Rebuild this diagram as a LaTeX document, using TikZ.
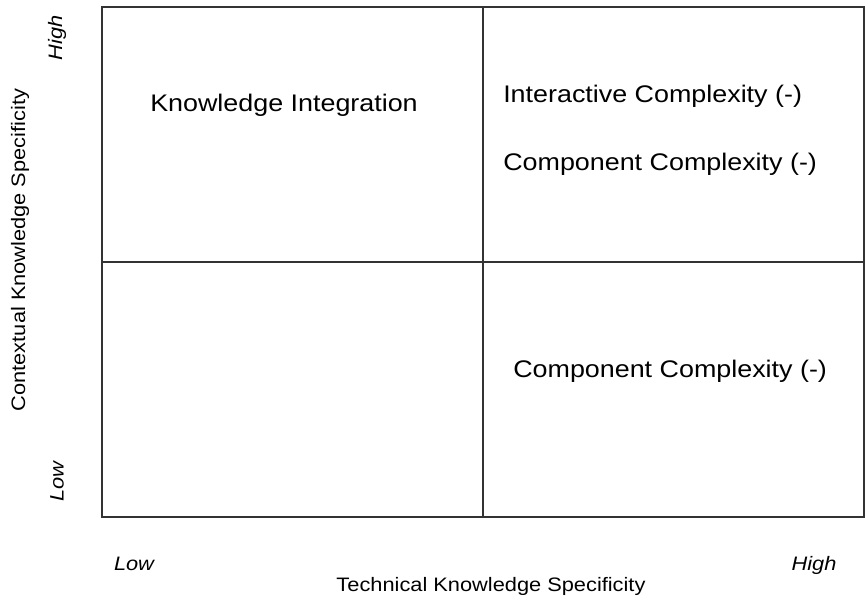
\documentclass[tikz,border=0pt]{standalone}
\usepackage{fontspec}
\setmainfont{Liberation Sans}[FakeStretch=1.12]
\definecolor{gridline}{HTML}{333333}
\begin{document}
\begin{tikzpicture}[x=0.75pt,y=-0.75pt,
  big/.style={inner sep=0pt, font=\fontsize{18}{21}\selectfont},
  small/.style={inner sep=0pt, font=\fontsize{14.6}{17}\selectfont},
  smallit/.style={inner sep=0pt, font=\fontsize{14.6}{17}\selectfont\itshape},
  grid/.style={draw=gridline, line width=1pt}]
\useasboundingbox (0,0) rectangle (865,605);
\fill[white] (0,0) rectangle (865,605);
% quadrant grid
\coordinate (tl) at (102,7);
\coordinate (br) at (864,517);
\coordinate (mt) at (483,7);
\coordinate (mb) at (483,517);
\coordinate (ml) at (102,262);
\coordinate (mr) at (864,262);
\draw[grid] (tl) rectangle (br);
\draw[grid] (mt) -- (mb);
\draw[grid] (ml) -- (mr);
% quadrant texts
\node[big, anchor=base] (ki) at (284,112) {Knowledge Integration};
\node[big, anchor=base west] (ic) at (503,103) {Interactive Complexity (-)};
\node[big, anchor=base west] (cc1) at (503,171) {Component Complexity (-)};
\node[big, anchor=base west] (cc2) at (513,378) {Component Complexity (-)};
% axes labels
\node[small, anchor=base] (xlab) at (491,592) {Technical Knowledge Specificity};
\node[smallit, anchor=base] (xlow) at (134,571) {Low};
\node[smallit, anchor=base] (xhigh) at (814,571) {High};
\node[small, rotate=90] (ylab) at (20,250) {Contextual Knowledge Specificity};
\node[smallit, rotate=90] (yhigh) at (57,38) {High};
\node[smallit, rotate=90] (ylow) at (57,482) {Low};
\end{tikzpicture}
\end{document}
